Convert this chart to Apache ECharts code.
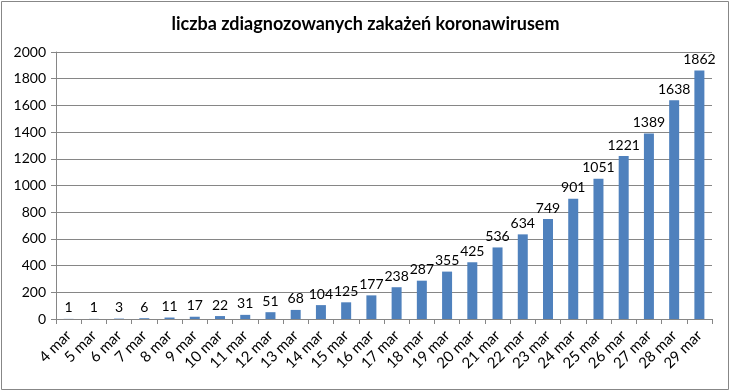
<!DOCTYPE html>
<html><head><meta charset="utf-8">
<script src="https://cdn.jsdelivr.net/npm/echarts@6/dist/echarts.min.js"></script>
<style>html,body{margin:0;padding:0;background:#fff}#c{width:731px;height:392px}</style>
</head><body><div id="c"></div>
<script>
const titleText = 'liczba zdiagnozowanych zakażeń koronawirusem';
const categories = ['4 mar','5 mar','6 mar','7 mar','8 mar','9 mar','10 mar','11 mar','12 mar','13 mar','14 mar','15 mar','16 mar','17 mar','18 mar','19 mar','20 mar','21 mar','22 mar','23 mar','24 mar','25 mar','26 mar','27 mar','28 mar','29 mar'];
const cases = [1,1,3,6,11,17,22,31,51,68,104,125,177,238,287,355,425,536,634,749,901,1051,1221,1389,1638,1862];
const yMin = 0, yMax = 2000, yStep = 200;

const chart = echarts.init(document.getElementById('c'), null, {renderer:'canvas'});
const font = 'Lato, Calibri, Carlito, "Liberation Sans", sans-serif';
chart.setOption({
  animation:false,
  textStyle:{fontFamily:font},
  graphic:[{type:'rect', shape:{x:1.5,y:1.5,width:727,height:388}, style:{fill:'none', stroke:'#878787', lineWidth:1}}],
  title:{text:titleText, left:'center', top:10, textStyle:{fontFamily:font, fontSize:18, fontWeight:'bold', color:'#000'}},
  grid:{left:56, right:19, top:52, bottom:73},
  xAxis:{type:'category', data:categories,
    axisLine:{lineStyle:{color:'#868686'}},
    axisTick:{show:true, length:5, lineStyle:{color:'#868686'}},
    axisLabel:{rotate:45, fontFamily:font, fontSize:15, color:'#000', interval:0, margin:14}},
  yAxis:{type:'value', min:yMin, max:yMax, interval:yStep,
    axisLine:{show:true, lineStyle:{color:'#868686'}},
    axisTick:{show:true, length:5, lineStyle:{color:'#868686'}},
    axisLabel:{fontFamily:font, fontSize:14, color:'#000', margin:10, formatter:function(v){return String(v);}},
    splitLine:{lineStyle:{color:'#868686', width:1}}},
  series:[{type:'bar', data:cases, barWidth:10, itemStyle:{color:'#4F81BD'},
    label:{show:true, position:'top', fontFamily:font, fontSize:14, color:'#000', distance:4}}]
});
</script></body></html>
